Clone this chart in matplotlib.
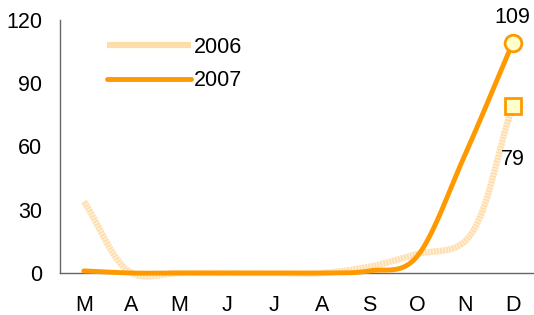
import numpy as np
import matplotlib
matplotlib.use("Agg")
import matplotlib.pyplot as plt

# ---------------- Data ----------------

months = ["M", "A", "M", "J", "J", "A", "S", "O", "N", "D"]
values_2006 = [34, 0, 0, 0, 0, 0, 3, 9, 15, 79]
values_2007 = [1, 0, 0, 0, 0, 0, 1, 8, 56, 109]

light = "#FFDDAA"
orange = "#FF9900"
marker_fill = "#FFFFCC"

plt.rcParams["font.family"] = ["Liberation Sans", "DejaVu Sans"]
plt.rcParams["font.size"] = 15.5
plt.rcParams["lines.scale_dashes"] = False

# pixels per month / per unit, used to make the smoothing look like excel's
SX, SY = 47.7, 2.1


def smooth(y, n=30, alpha=0.5):
    # catmull-rom through the points, computed in pixel space
    P = np.column_stack([np.arange(len(y)) * SX, np.asarray(y, float) * SY])
    P = np.vstack([2 * P[0] - P[1], P, 2 * P[-1] - P[-2]])
    out = []
    for i in range(1, len(P) - 2):
        p0, p1, p2, p3 = P[i - 1], P[i], P[i + 1], P[i + 2]
        t0 = 0.0
        t1 = t0 + np.linalg.norm(p1 - p0) ** alpha
        t2 = t1 + np.linalg.norm(p2 - p1) ** alpha
        t3 = t2 + np.linalg.norm(p3 - p2) ** alpha
        t = np.linspace(t1, t2, n, endpoint=False)[:, None]
        a1 = (t1 - t) / (t1 - t0) * p0 + (t - t0) / (t1 - t0) * p1
        a2 = (t2 - t) / (t2 - t1) * p1 + (t - t1) / (t2 - t1) * p2
        a3 = (t3 - t) / (t3 - t2) * p2 + (t - t2) / (t3 - t2) * p3
        b1 = (t2 - t) / (t2 - t0) * a1 + (t - t0) / (t2 - t0) * a2
        b2 = (t3 - t) / (t3 - t1) * a2 + (t - t1) / (t3 - t1) * a3
        out.append((t2 - t) / (t2 - t1) * b1 + (t - t1) / (t2 - t1) * b2)
    out.append(P[-2][None, :])
    c = np.vstack(out)
    return c[:, 0] / SX, c[:, 1] / SY


fig = plt.figure(figsize=(5.34, 3.15), dpi=100)
ax = fig.add_axes([60 / 534, 42 / 315, 1 - 60 / 534, 253 / 315])

x06, y06 = smooth(values_2006, alpha=0.5)
x07, y07 = smooth(values_2007, alpha=0.0)

ax.plot(x06, y06, color=light, lw=4.5, solid_capstyle="butt", clip_on=False,
        label="2006", zorder=2)
ax.plot(x06, y06, color="#FFF0DA", lw=4.5, dashes=(1.0, 1.2), clip_on=False,
        zorder=2)
ax.plot(x07, y07, color=orange, lw=3.5, solid_capstyle="round", clip_on=False,
        label="2007", zorder=3)

last = len(months) - 1
ax.plot(last, values_2006[-1], marker="s", ms=12, mfc=marker_fill, mec=orange,
        mew=2, clip_on=False, zorder=4)
ax.plot(last, values_2007[-1], marker="o", ms=12, mfc=marker_fill, mec=orange,
        mew=2, clip_on=False, zorder=4)

ax.text(last, values_2007[-1] + 7, str(values_2007[-1]), ha="center",
        va="bottom")
ax.text(last, values_2006[-1] - 25, str(values_2006[-1]), ha="center",
        va="center")

ax.set_xlim(-0.5, 9.45)
ax.set_ylim(0, 120)
ax.set_yticks([0, 30, 60, 90, 120])
ax.set_xticks(range(len(months)))
ax.set_xticklabels(months)
ax.tick_params(length=0)
ax.tick_params(axis="y", pad=13)
ax.tick_params(axis="x", pad=16)

for side in ["top", "right"]:
    ax.spines[side].set_visible(False)
for side in ["left", "bottom"]:
    ax.spines[side].set_color("#666666")
    ax.spines[side].set_linewidth(1)

leg = ax.legend(loc="upper left", bbox_to_anchor=(0.058, 1.01), frameon=False,
                handlelength=3.9, handletextpad=0.12, labelspacing=0.58)
leg.legend_handles[0].set_linewidth(4.5)

fig.savefig("out.png", dpi=100)
